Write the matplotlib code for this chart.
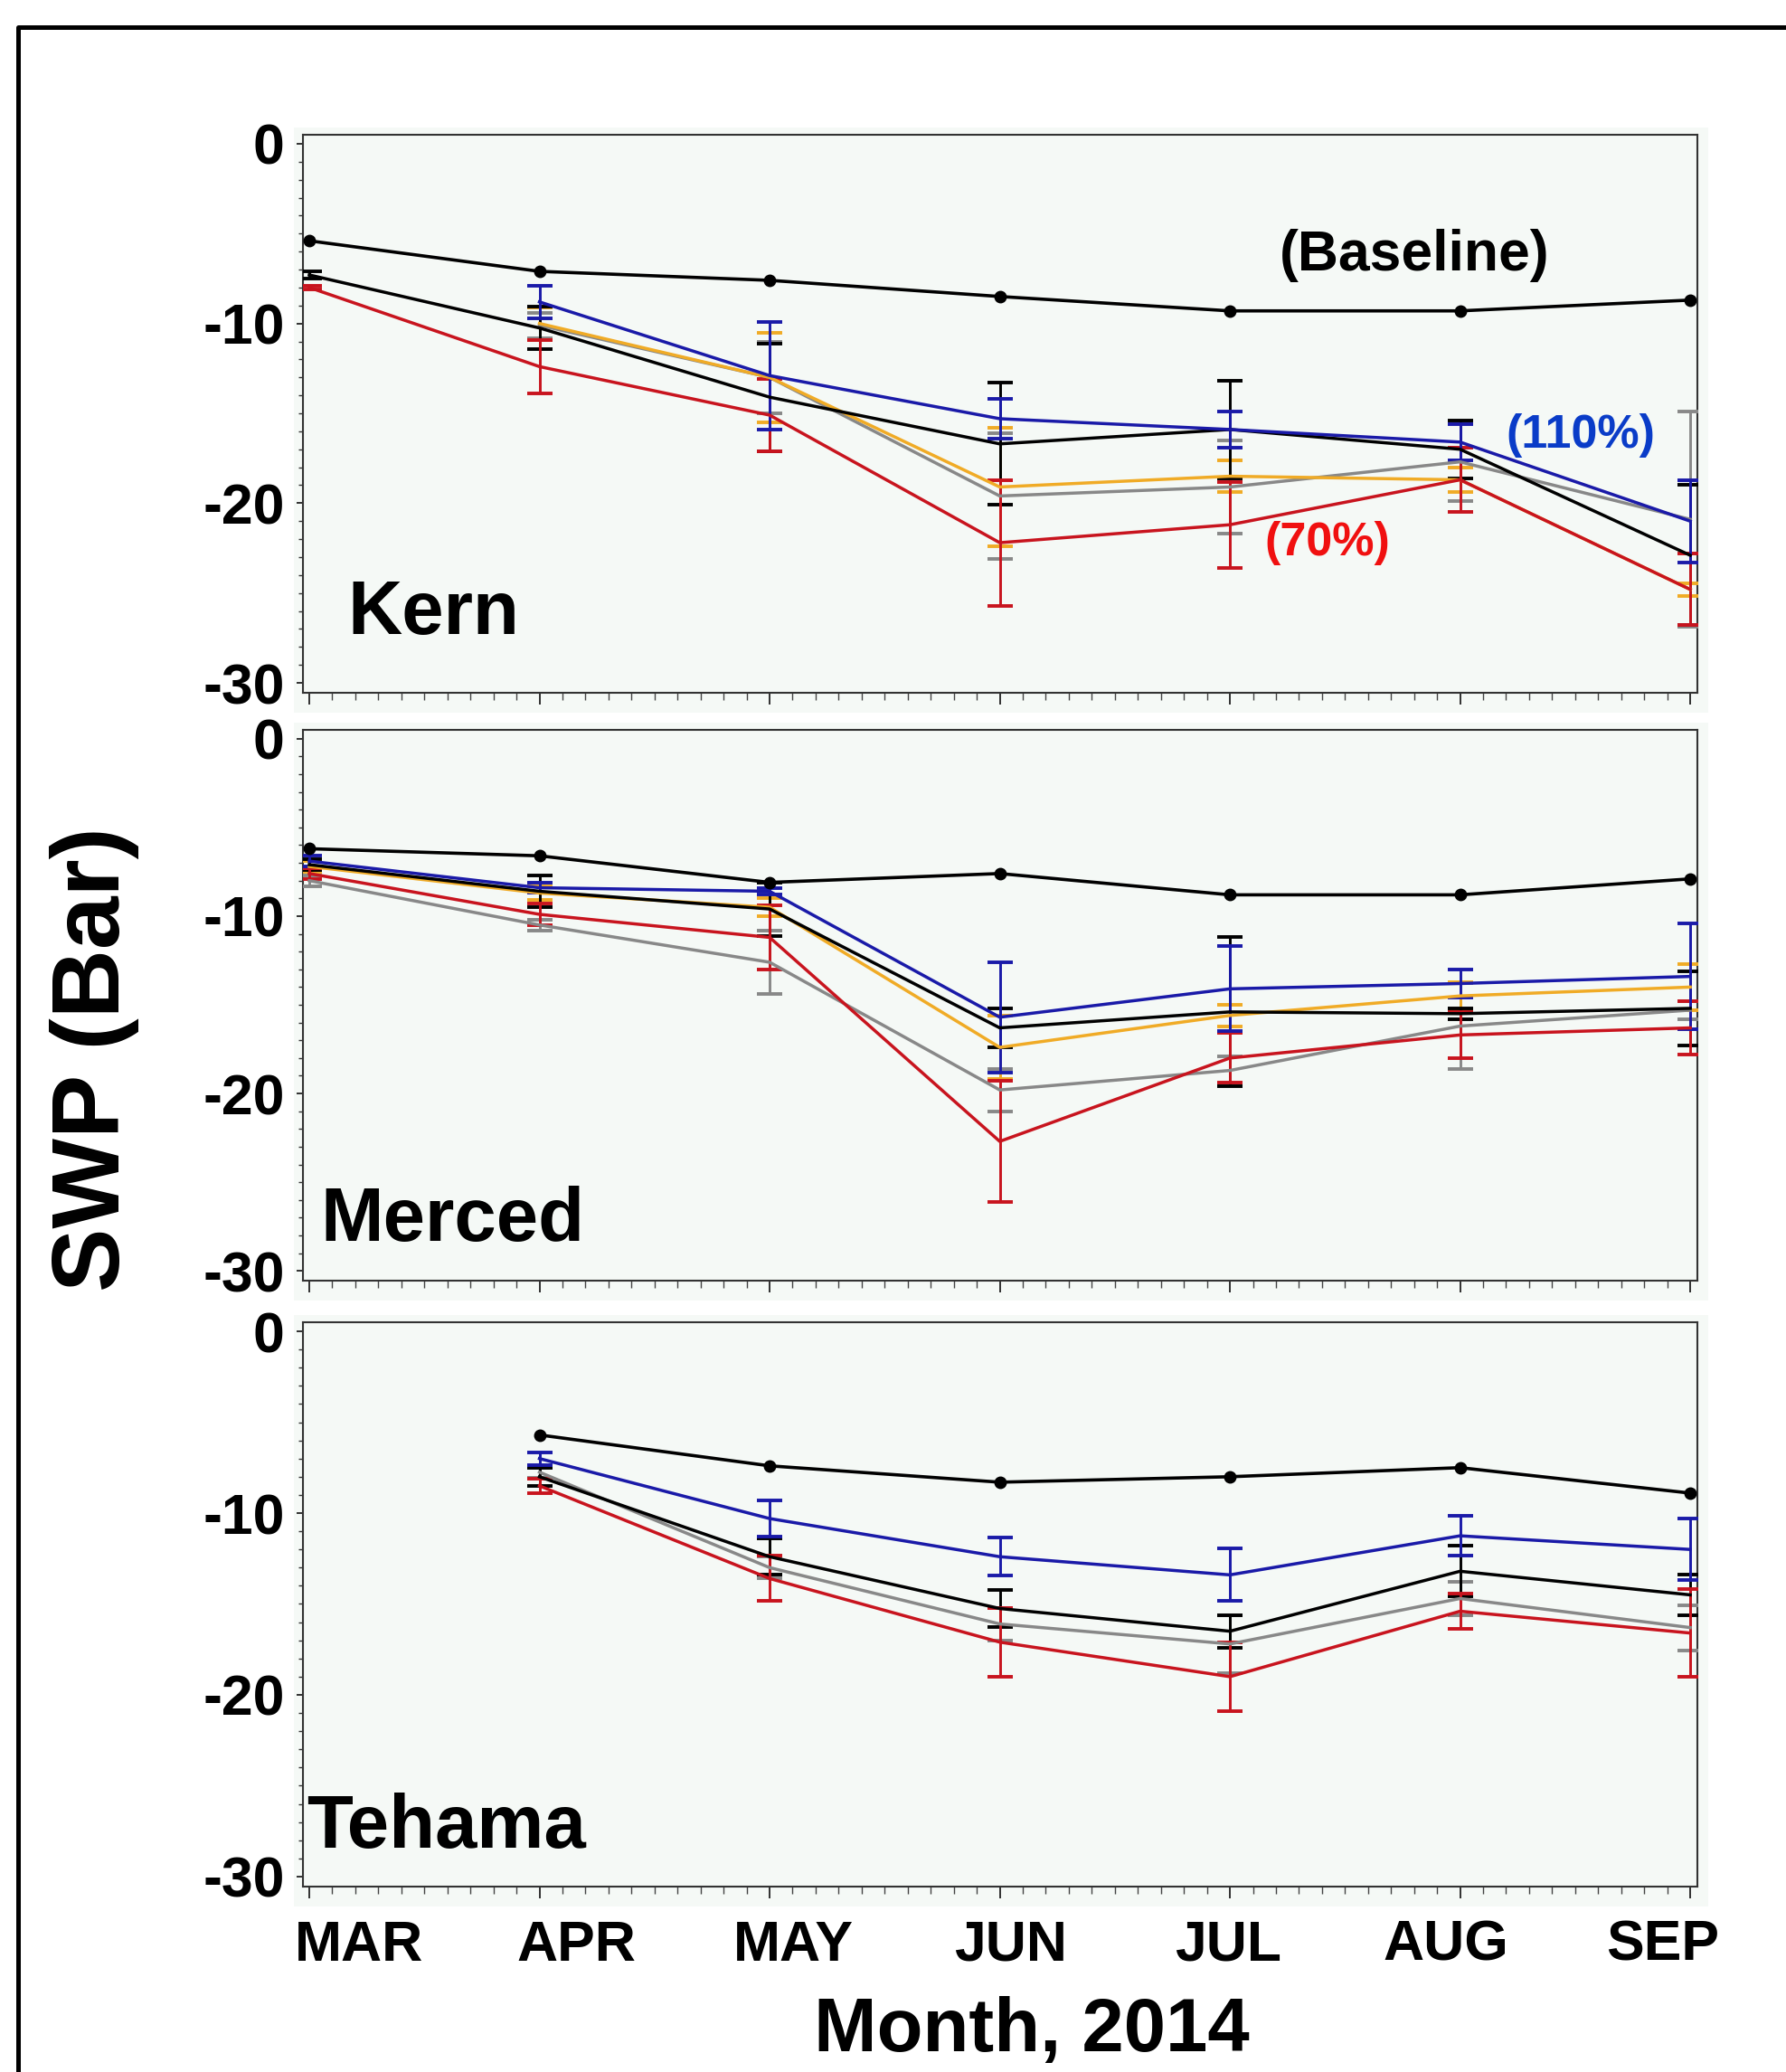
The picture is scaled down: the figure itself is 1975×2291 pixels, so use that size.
import numpy as np
import matplotlib
matplotlib.use("Agg")
import matplotlib.pyplot as plt
from matplotlib.patches import Rectangle
from matplotlib.lines import Line2D
from matplotlib.ticker import MultipleLocator

plt.rcParams['font.family'] = ['Liberation Sans', 'DejaVu Sans']
plt.rcParams['font.weight'] = 'bold'

nan = np.nan
months = ['MAR', 'APR', 'MAY', 'JUN', 'JUL', 'AUG', 'SEP']
sites = ['Kern', 'Merced', 'Tehama']

# ---- Kern ----
kern_base = [-5.4, -7.1, -7.6, -8.5, -9.3, -9.3, -8.7]
kern_black = [-7.3, -10.25, -14.1, -16.7, -15.9, -17.0, -22.9]
kern_black_err = [0.2, 1.2, 3.0, 3.4, 2.7, 1.6, 3.9]
kern_blue = [nan, -8.8, -12.9, -15.3, -15.9, -16.6, -21.0]
kern_blue_err = [nan, 0.9, 3.0, 1.1, 1.0, 1.0, 2.3]
kern_yellow = [nan, -10.0, -13.0, -19.1, -18.5, -18.7, -24.8]
kern_yellow_err = [nan, 0.9, 2.5, 3.3, 0.9, 0.7, 0.35]
kern_gray = [nan, -10.1, -13.0, -19.6, -19.1, -17.7, -20.9]
kern_gray_err = [nan, 0.7, 2.0, 3.5, 2.6, 2.2, 6.0]
kern_red = [-8.0, -12.4, -15.1, -22.2, -21.2, -18.7, -24.8]
kern_red_err = [0.1, 1.5, 2.0, 3.5, 2.4, 1.8, 2.0]

# ---- Merced ----
merced_base = [-6.2, -6.6, -8.1, -7.6, -8.8, -8.8, -7.9]
merced_black = [-7.1, -8.6, -9.6, -16.3, -15.4, -15.5, -15.2]
merced_black_err = [0.3, 0.9, 1.5, 1.1, 4.2, 0.3, 2.1]
merced_blue = [-6.9, -8.4, -8.6, -15.7, -14.1, -13.8, -13.4]
merced_blue_err = [0.3, 0.3, 0.2, 3.1, 2.4, 0.8, 3.0]
merced_yellow = [-7.2, -8.7, -9.5, -17.4, -15.6, -14.5, -14.0]
merced_yellow_err = [0.3, 0.4, 0.5, 1.8, 0.6, 0.8, 1.3]
merced_gray = [-8.0, -10.5, -12.6, -19.8, -18.7, -16.2, -15.3]
merced_gray_err = [0.3, 0.3, 1.8, 1.2, 0.8, 2.4, 0.5]
merced_red = [-7.6, -9.9, -11.2, -22.7, -18.0, -16.7, -16.3]
merced_red_err = [0.3, 0.6, 1.8, 3.4, 1.4, 1.3, 1.5]

# ---- Tehama ----
tehama_base = [nan, -5.7, -7.4, -8.3, -8.0, -7.5, -8.9]
tehama_black = [nan, -8.0, -12.4, -15.25, -16.5, -13.2, -14.5]
tehama_black_err = [nan, 0.5, 1.0, 1.0, 0.9, 1.4, 1.1]
tehama_blue = [nan, -7.0, -10.3, -12.4, -13.4, -11.25, -12.0]
tehama_blue_err = [nan, 0.35, 1.0, 1.05, 1.45, 1.1, 1.7]
tehama_gray = [nan, -7.75, -13.0, -16.1, -17.2, -14.7, -16.3]
tehama_gray_err = [nan, 0.3, 0.6, 0.9, 1.6, 0.9, 1.25]
tehama_red = [nan, -8.5, -13.6, -17.1, -19.0, -15.4, -16.6]
tehama_red_err = [nan, 0.4, 1.25, 1.9, 1.9, 0.95, 2.4]

COL = {'black': '#000000', 'blue': '#1a1aa8', 'yellow': '#f0ab26',
       'gray': '#888888', 'red': '#c8141e'}

panels = [
    dict(name='Kern', base=kern_base,
         series=[('gray', kern_gray, kern_gray_err), ('yellow', kern_yellow, kern_yellow_err),
                 ('black', kern_black, kern_black_err), ('red', kern_red, kern_red_err),
                 ('blue', kern_blue, kern_blue_err)],
         box=(149, 766), label_xy=(0.165, -27.3)),
    dict(name='Merced', base=merced_base,
         series=[('gray', merced_gray, merced_gray_err), ('yellow', merced_yellow, merced_yellow_err),
                 ('black', merced_black, merced_black_err), ('red', merced_red, merced_red_err),
                 ('blue', merced_blue, merced_blue_err)],
         box=(807, 1416), label_xy=(0.05, -28.3)),
    dict(name='Tehama', base=tehama_base,
         series=[('gray', tehama_gray, tehama_gray_err), ('black', tehama_black, tehama_black_err),
                 ('red', tehama_red, tehama_red_err), ('blue', tehama_blue, tehama_blue_err)],
         box=(1462, 2086), label_xy=(-0.01, -28.4)),
]

W, H = 1975, 2291
fig = plt.figure(figsize=(W / 100, H / 100), dpi=100)
fig.patch.set_facecolor('white')
FACE = '#f5f9f6'
left_px, right_px = 335, 1877
x = np.arange(len(months))

for p in panels:
    top_px, bot_px = p['box']
    ax = fig.add_axes([left_px / W, 1 - bot_px / H, (right_px - left_px) / W, (bot_px - top_px) / H])
    # light panel background slightly larger than the axes
    fig.add_artist(Rectangle(((left_px - 10) / W, 1 - (bot_px + 22) / H),
                             (right_px - left_px + 22) / W, (bot_px - top_px + 30) / H,
                             transform=fig.transFigure, facecolor=FACE, edgecolor='none', zorder=-5))
    ax.set_facecolor(FACE)
    for cname, vals, errs in p['series']:
        ax.errorbar(x, vals, yerr=errs, color=COL[cname], lw=2.5, elinewidth=2.1,
                    capsize=10, capthick=2.8, zorder=3)
    ax.plot(x, p['base'], '-o', color='black', lw=2.6, ms=9, zorder=5)
    ax.set_xlim(-0.0275, 6.031)
    ax.set_ylim(-30.55, 0.5)
    ax.set_yticks([0, -10, -20, -30])
    ax.set_yticklabels(['0', '-10', '-20', '-30'])
    ax.yaxis.set_minor_locator(MultipleLocator(1))
    ax.set_xticks(x)
    ax.set_xticklabels([])
    ax.xaxis.set_minor_locator(MultipleLocator(0.1))
    ax.tick_params(axis='y', which='major', length=5, width=1.3, pad=9.5,
                   labelsize=45, colors='#222222', labelcolor='black')
    ax.tick_params(axis='y', which='minor', length=3.5, width=1.0, colors='#333333')
    ax.tick_params(axis='x', which='major', length=9, width=1.3, colors='#222222')
    ax.tick_params(axis='x', which='minor', length=6, width=1.0, colors='#444444')
    for lab in ax.get_yticklabels():
        lab.set_fontweight('bold')
    for s in ax.spines.values():
        s.set_color('#333333')
        s.set_linewidth(1.5)
    lx, ly = p['label_xy']
    ax.text(lx, ly, p['name'], fontsize=60, fontweight='bold', ha='left', va='baseline', zorder=6)
    if p['name'] == 'Kern':
        ax.text(4.80, -7.04, '(Baseline)', fontsize=45, fontweight='bold', ha='center',
                va='baseline', color='black', zorder=6)
        ax.text(5.20, -16.9, '(110%)', fontsize=37.5, fontweight='bold', ha='left',
                va='baseline', color='#0a3cc8', zorder=6)
        ax.text(4.15, -22.9, '(70%)', fontsize=37.5, fontweight='bold', ha='left',
                va='baseline', color='#f01010', zorder=6)

# month labels (spread evenly under the bottom panel)
for name, px in zip(months, np.linspace(397, 1839, len(months))):
    fig.text(px / W, 1 - 2168 / H, name, fontsize=45, fontweight='bold',
             ha='center', va='baseline')

fig.text(1141 / W, 1 - 2268 / H, 'Month, 2014', fontsize=60, fontweight='bold',
         ha='center', va='baseline')
fig.text(104 / W, 1 - 1171 / H, 'SWP (Bar)', fontsize=76, fontweight='bold',
         rotation=90, ha='center', va='center')

# outer frame (cut by the image on the right and bottom)
fig.add_artist(Line2D([20 / W, 20 / W, 1.0], [0.0, 1 - 30 / H, 1 - 30 / H],
                      transform=fig.transFigure, color='black', lw=3.6, zorder=10))

fig.savefig('out.png', dpi=100, facecolor='white')
